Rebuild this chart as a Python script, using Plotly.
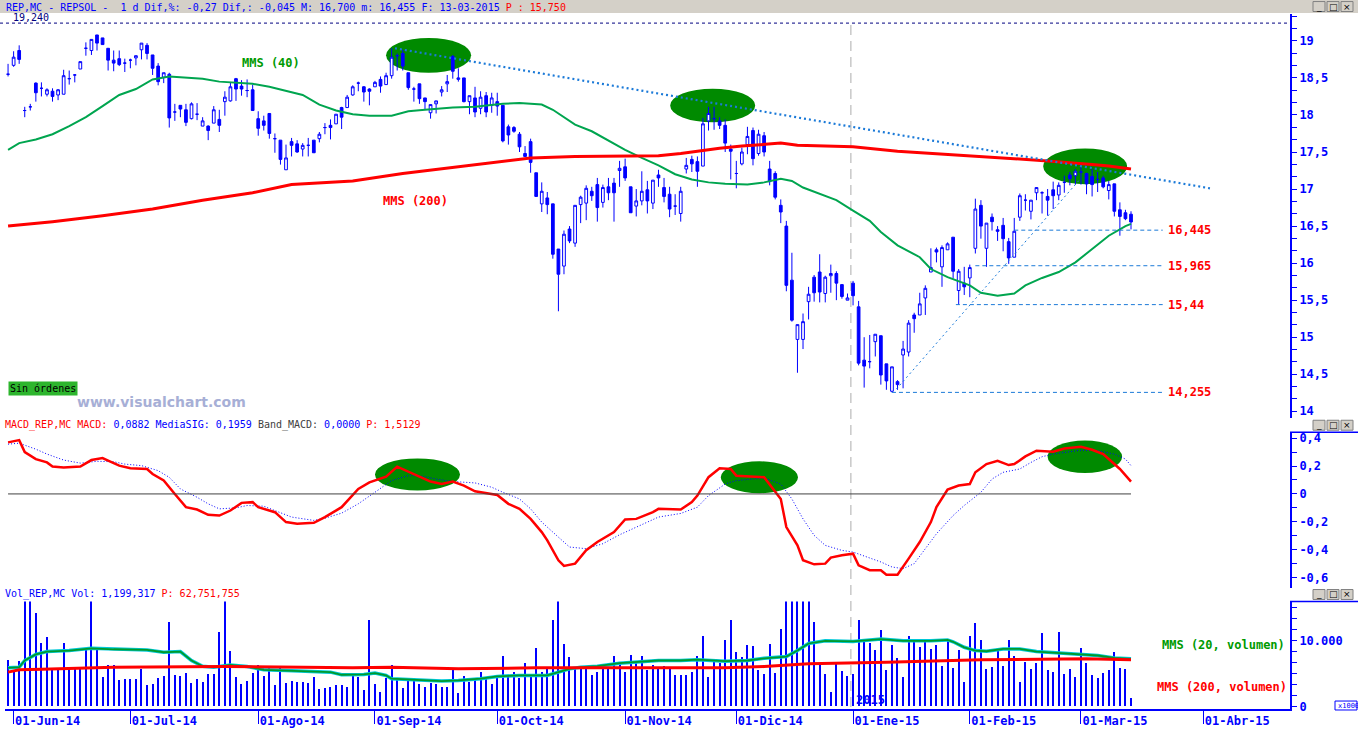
import math
import numpy as np
import pandas as pd
import plotly.graph_objects as go
from plotly.subplots import make_subplots

# trading calendar of the Spanish market (weekdays minus market holidays)
holidays = ["2014-12-25", "2014-12-26", "2015-01-01"]
cal = pd.bdate_range("2014-05-30", "2015-05-29")
cal = cal[~cal.isin(pd.to_datetime(holidays))]

# ---- daily candles REP.MC (30-May-2014 .. 13-Mar-2015)
opens = [
    18.55, 18.67, 18.87, 18.06, 18.11, 18.43, 18.36, 18.28, 18.32, 18.27,
    18.28, 18.49, 18.54, 18.62, 18.90, 18.87, 19.08, 19.04, 18.90, 18.74,
    18.76, 18.70, 18.74, 18.77, 18.88, 18.94, 18.81, 18.66, 18.51, 18.55,
    18.04, 18.13, 18.07, 17.95, 18.01, 17.85, 17.85, 17.89, 17.94, 18.18,
    18.19, 18.49, 18.39, 18.33, 18.34, 17.95, 17.92, 18.02, 17.68, 17.66,
    17.26, 17.64, 17.61, 17.54, 17.59, 17.66, 17.68, 17.83, 17.86, 17.88,
    18.10, 18.10, 18.27, 18.43, 18.38, 18.35, 18.38, 18.48, 18.41, 18.53,
    18.80, 18.83, 18.57, 18.35, 18.42, 18.23, 18.03, 18.15, 18.31, 18.42,
    18.79, 18.48, 18.50, 18.18, 18.23, 18.09, 18.26, 18.13, 18.18, 18.13,
    17.84, 17.83, 17.74, 17.48, 17.64, 17.22, 16.80, 16.88, 16.80, 16.19,
    15.96, 16.46, 16.27, 16.79, 16.81, 16.97, 17.06, 16.82, 17.03, 17.08,
    17.25, 17.30, 17.03, 16.77, 16.84, 16.99, 16.81, 17.19, 17.02, 16.93,
    16.77, 16.67, 17.27, 17.40, 17.37, 17.31, 17.92, 17.95, 17.92, 17.86,
    17.54, 17.21, 17.34, 17.60, 17.79, 17.48, 17.72, 17.27, 17.21, 16.78,
    16.50, 15.77, 14.97, 14.97, 15.48, 15.81, 15.88, 15.59, 15.83, 15.86,
    15.71, 15.50, 15.73, 15.41, 14.69, 14.67, 14.94, 15.02, 14.64, 14.27,
    14.40, 14.76, 14.80, 15.30, 15.30, 15.53, 15.88, 16.18, 15.95, 16.18,
    16.35, 15.63, 15.73, 15.80, 16.20, 16.78, 16.20, 16.62, 16.45, 16.51,
    16.29, 16.08, 16.62, 16.85, 16.70, 16.95, 16.95, 16.90, 16.99, 16.92,
    17.09, 17.19, 17.18, 17.23, 17.21, 17.17, 17.13, 17.15, 16.98, 17.07,
    16.72, 16.68, 16.66]
highs = [
    18.69, 18.86, 18.94, 18.11, 18.15, 18.44, 18.44, 18.36, 18.36, 18.35,
    18.61, 18.60, 18.55, 18.72, 18.98, 19.02, 19.08, 19.04, 18.90, 18.87,
    18.87, 18.76, 18.76, 18.80, 18.97, 18.97, 18.81, 18.70, 18.57, 18.57,
    18.15, 18.13, 18.15, 18.17, 18.16, 17.97, 17.86, 18.12, 18.07, 18.32,
    18.44, 18.50, 18.47, 18.48, 18.41, 18.05, 17.99, 18.02, 17.75, 17.66,
    17.60, 17.69, 17.66, 17.62, 17.69, 17.66, 17.77, 17.89, 17.94, 18.01,
    18.11, 18.27, 18.40, 18.45, 18.39, 18.36, 18.46, 18.52, 18.57, 18.90,
    18.83, 18.88, 18.57, 18.38, 18.42, 18.23, 18.14, 18.19, 18.39, 18.54,
    18.81, 18.63, 18.50, 18.26, 18.38, 18.32, 18.31, 18.30, 18.30, 18.13,
    17.87, 17.85, 17.77, 17.58, 17.68, 17.22, 17.09, 16.96, 16.80, 16.19,
    16.44, 16.50, 16.78, 16.91, 17.05, 17.03, 17.15, 17.06, 17.15, 17.15,
    17.38, 17.41, 17.03, 17.00, 17.24, 17.11, 17.12, 17.26, 17.15, 17.03,
    16.93, 17.03, 17.42, 17.45, 17.44, 17.96, 18.11, 18.11, 17.97, 17.94,
    17.60, 17.38, 17.56, 17.84, 17.83, 17.80, 17.77, 17.38, 17.24, 16.86,
    16.57, 16.14, 15.17, 15.32, 15.68, 15.84, 16.12, 15.83, 15.98, 15.89,
    15.71, 15.59, 15.76, 15.49, 15.00, 15.03, 15.04, 15.02, 14.64, 14.60,
    14.42, 14.95, 15.23, 15.33, 15.60, 15.70, 16.20, 16.21, 16.24, 16.28,
    16.35, 15.92, 15.95, 15.98, 16.87, 16.85, 16.54, 16.67, 16.50, 16.61,
    16.34, 16.61, 16.94, 16.93, 16.85, 17.02, 16.97, 17.00, 17.10, 17.09,
    17.18, 17.23, 17.27, 17.30, 17.22, 17.27, 17.23, 17.18, 17.11, 17.07,
    16.82, 16.72, 16.70]
lows = [
    18.52, 18.65, 18.69, 17.97, 18.06, 18.18, 18.25, 18.25, 18.18, 18.20,
    18.28, 18.41, 18.44, 18.62, 18.80, 18.81, 18.87, 18.95, 18.60, 18.59,
    18.66, 18.58, 18.63, 18.67, 18.75, 18.75, 18.54, 18.40, 18.43, 17.83,
    17.92, 17.97, 17.85, 17.94, 17.93, 17.85, 17.66, 17.89, 17.77, 17.99,
    18.18, 18.19, 18.26, 18.24, 18.06, 17.72, 17.79, 17.68, 17.49, 17.33,
    17.26, 17.44, 17.49, 17.44, 17.44, 17.49, 17.63, 17.74, 17.67, 17.88,
    17.81, 18.10, 18.26, 18.32, 18.18, 18.13, 18.38, 18.30, 18.41, 18.49,
    18.60, 18.60, 18.34, 18.18, 18.15, 18.07, 17.95, 18.02, 18.25, 18.31,
    18.49, 18.45, 18.17, 18.01, 17.97, 18.01, 17.97, 18.03, 17.99, 17.63,
    17.60, 17.76, 17.50, 17.44, 17.22, 16.90, 16.69, 16.66, 16.06, 15.35,
    15.85, 16.27, 16.22, 16.54, 16.58, 16.84, 16.56, 16.75, 16.85, 16.56,
    17.03, 17.11, 16.68, 16.63, 16.78, 16.67, 16.73, 17.03, 16.82, 16.62,
    16.65, 16.56, 17.21, 17.23, 17.03, 17.31, 17.79, 17.80, 17.81, 17.50,
    17.13, 17.01, 17.32, 17.47, 17.32, 17.45, 17.44, 17.05, 16.86, 16.54,
    15.62, 15.21, 14.52, 14.84, 15.24, 15.48, 15.47, 15.47, 15.60, 15.50,
    15.52, 15.50, 15.43, 14.62, 14.32, 14.58, 14.74, 14.36, 14.29, 14.255,
    14.29, 14.31, 14.74, 15.06, 15.30, 15.30, 15.88, 16.01, 15.68, 16.18,
    15.79, 15.44, 15.57, 15.54, 16.13, 16.33, 15.95, 16.44, 16.30, 16.16,
    15.99, 16.08, 16.57, 16.71, 16.59, 16.85, 16.67, 16.64, 16.73, 16.85,
    16.95, 17.05, 17.06, 17.06, 16.93, 16.90, 16.96, 17.01, 16.86, 16.63,
    16.37, 16.58, 16.455]
closes = [
    18.55, 18.78, 18.75, 18.06, 18.11, 18.30, 18.36, 18.34, 18.25, 18.34,
    18.53, 18.49, 18.54, 18.72, 18.90, 19.02, 18.97, 18.95, 18.74, 18.70,
    18.68, 18.70, 18.74, 18.80, 18.97, 18.83, 18.63, 18.45, 18.57, 17.96,
    18.04, 18.08, 17.90, 18.15, 18.01, 17.92, 17.79, 18.07, 17.86, 18.24,
    18.38, 18.35, 18.35, 18.33, 18.06, 17.82, 17.86, 17.75, 17.68, 17.40,
    17.42, 17.59, 17.50, 17.59, 17.59, 17.49, 17.74, 17.83, 17.83, 18.01,
    17.97, 18.24, 18.38, 18.43, 18.31, 18.32, 18.44, 18.39, 18.53, 18.78,
    18.80, 18.66, 18.37, 18.35, 18.22, 18.18, 18.14, 18.19, 18.34, 18.45,
    18.59, 18.50, 18.18, 18.26, 18.04, 18.24, 18.04, 18.23, 18.12, 17.65,
    17.73, 17.78, 17.57, 17.44, 17.36, 16.90, 16.97, 16.79, 16.12, 15.85,
    16.39, 16.30, 16.78, 16.89, 17.01, 16.91, 16.75, 17.02, 16.95, 16.95,
    17.28, 17.15, 16.68, 16.84, 16.97, 16.84, 17.12, 17.15, 16.90, 16.73,
    16.77, 16.97, 17.32, 17.34, 17.24, 17.88, 18.02, 17.95, 17.86, 17.62,
    17.51, 17.21, 17.50, 17.71, 17.41, 17.74, 17.50, 17.10, 16.89, 16.69,
    15.70, 15.23, 15.17, 15.21, 15.58, 15.60, 15.61, 15.81, 15.86, 15.73,
    15.55, 15.53, 15.56, 14.65, 14.61, 14.67, 15.04, 14.49, 14.41, 14.60,
    14.36, 14.84, 15.19, 15.25, 15.45, 15.66, 15.94, 16.15, 16.21, 16.26,
    15.89, 15.89, 15.68, 15.94, 16.73, 16.50, 16.54, 16.56, 16.43, 16.33,
    16.07, 16.43, 16.91, 16.85, 16.85, 17.02, 16.95, 16.85, 16.91, 17.05,
    17.09, 17.14, 17.24, 17.23, 17.07, 17.06, 17.13, 17.03, 17.06, 16.70,
    16.63, 16.60, 16.555]
dates = cal[:len(closes)]

# moving averages on price (sampled at trading-day numbers)
mms40_day = [0, 2, 5, 8, 11, 14, 17, 20, 23, 26, 29, 32, 35, 38, 41, 44, 47, 51, 53, 56,
             59, 62, 65, 69, 72, 75, 80, 84, 89, 92, 96, 98, 102, 105, 108, 111, 114, 117, 120, 123,
             126, 129, 133, 136, 139, 141, 143, 146, 149, 152, 155, 157, 160, 164, 166, 169, 173, 175, 178, 181,
             183, 186, 189, 192, 195, 198, 201, 202]
mms40_val = [17.53, 17.62, 17.67, 17.74, 17.85, 17.97, 18.12, 18.27, 18.35, 18.48,
             18.52, 18.51, 18.49, 18.45, 18.43, 18.42, 18.38, 18.31, 18.27, 18.14,
             18.06, 18.01, 17.99, 17.99, 18.05, 18.07, 18.10, 18.11, 18.15, 18.16,
             18.14, 18.07, 17.87, 17.78, 17.65, 17.53, 17.42, 17.32, 17.20, 17.13,
             17.09, 17.07, 17.06, 17.09, 17.14, 17.11, 17.02, 16.93, 16.85, 16.71,
             16.57, 16.42, 16.24, 16.08, 15.92, 15.81, 15.70, 15.60, 15.56, 15.59,
             15.70, 15.80, 15.88, 16.01, 16.19, 16.37, 16.50, 16.53]
mms200_day = [0, 8, 17, 26, 35, 44, 51, 62, 71, 80, 89, 94, 102, 112, 117, 121, 125, 128, 132, 135,
              139, 142, 146, 152, 160, 169, 178, 187, 195, 198, 202]
mms200_val = [16.50, 16.56, 16.64, 16.73, 16.85, 16.95, 17.06, 17.11, 17.21, 17.29,
              17.38, 17.42, 17.44, 17.44, 17.45, 17.48, 17.52, 17.55, 17.58, 17.60,
              17.62, 17.59, 17.58, 17.57, 17.51, 17.47, 17.42, 17.38, 17.33, 17.31, 17.27]

# MACD and signal
macd_day = [0, 2, 3, 5, 7, 8, 10, 13, 15, 17, 18, 20, 22, 25, 26, 28, 30, 32, 34, 36,
            38, 40, 42, 44, 45, 48, 50, 52, 55, 57, 60, 63, 65, 68, 70, 73, 76, 78, 80, 82,
            84, 88, 90, 92, 94, 96, 97, 99, 100, 102, 104, 106, 109, 111, 113, 116, 117, 121, 123, 124,
            126, 128, 130, 131, 134, 136, 139, 140, 142, 143, 145, 147, 148, 150, 152, 153, 155, 157, 158, 160,
            162, 164, 166, 167, 169, 171, 173, 174, 176, 178, 180, 181, 183, 185, 188, 190, 193, 195, 197, 198,
            200, 202]
macd_val = [0.37, 0.386, 0.30, 0.25, 0.226, 0.196, 0.189, 0.196, 0.243, 0.257,
            0.239, 0.203, 0.184, 0.179, 0.143, 0.096, 0.0, -0.095, -0.112, -0.15,
            -0.155, -0.119, -0.064, -0.059, -0.095, -0.131, -0.202, -0.214, -0.207, -0.166,
            -0.095, 0.036, 0.083, 0.124, 0.196, 0.143, 0.089, 0.071, 0.089, 0.06,
            0.019, -0.007, -0.071, -0.107, -0.179, -0.274, -0.333, -0.476, -0.516, -0.50,
            -0.404, -0.345, -0.274, -0.183, -0.179, -0.131, -0.107, -0.112, -0.059, -0.012,
            0.12, 0.184, 0.179, 0.131, 0.126, 0.12, -0.036, -0.238, -0.369, -0.476,
            -0.505, -0.50, -0.457, -0.44, -0.429, -0.512, -0.547, -0.547, -0.579, -0.579,
            -0.464, -0.345, -0.202, -0.095, 0.031, 0.06, 0.071, 0.155, 0.214, 0.238,
            0.207, 0.214, 0.269, 0.31, 0.303, 0.326, 0.339, 0.317, 0.286, 0.25,
            0.179, 0.088]
sig_day = [0, 2, 5, 7, 10, 13, 16, 19, 21, 24, 27, 29, 31, 34, 36, 38, 41, 43, 46, 48,
           51, 55, 57, 60, 63, 66, 69, 72, 74, 77, 80, 84, 87, 89, 92, 94, 96, 99, 101, 104,
           107, 110, 113, 117, 121, 124, 126, 129, 131, 134, 136, 139, 141, 143, 145, 147, 150, 152, 154, 157,
           159, 161, 163, 165, 167, 170, 172, 175, 177, 179, 182, 184, 186, 188, 191, 193, 196, 199, 201, 202]
sig_val = [0.357, 0.364, 0.321, 0.286, 0.243, 0.221, 0.234, 0.231, 0.214, 0.203,
           0.167, 0.119, 0.036, -0.024, -0.071, -0.107, -0.1, -0.083, -0.088, -0.119,
           -0.166, -0.19, -0.174, -0.138, -0.071, 0.012, 0.096, 0.131, 0.131, 0.107,
           0.089, 0.079, 0.048, 0.012, -0.036, -0.107, -0.202, -0.31, -0.381, -0.393,
           -0.357, -0.293, -0.238, -0.166, -0.14, -0.095, -0.012, 0.071, 0.096, 0.107,
           0.114, 0.071, -0.036, -0.179, -0.297, -0.369, -0.405, -0.417, -0.445, -0.488,
           -0.524, -0.536, -0.50, -0.393, -0.286, -0.155, -0.083, 0.012, 0.107, 0.155,
           0.179, 0.226, 0.267, 0.286, 0.303, 0.314, 0.31, 0.286, 0.25, 0.203]

# volume (thousands of shares)
vol_k = [
    6970, 5200, 6870, 18000, 17500, 14100, 9490, 10500, 5700, 5700,
    9590, 5700, 5700, 5700, 8580, 16800, 8980, 4340, 6200, 6200,
    3940, 4040, 4040, 4040, 5550, 3180, 3280, 4190, 4550, 12800,
    4700, 4550, 4950, 3540, 4040, 3690, 4850, 4850, 11260, 16500,
    8380, 4340, 3330, 3790, 5050, 6200, 4550, 5950, 3180, 5950,
    3430, 3790, 3690, 3690, 3540, 4340, 2520, 2670, 2930, 3180,
    3180, 2930, 4700, 4440, 2420, 13030, 3280, 2170, 4190, 6200,
    3940, 2670, 3940, 3790, 3330, 2930, 3540, 3330, 2930, 2930,
    5700, 2020, 4550, 3690, 3940, 5200, 4340, 3330, 4700, 7570,
    4340, 5200, 4190, 6560, 4440, 8730, 5200, 5950, 13130, 19000,
    9390, 7470, 5950, 5550, 5700, 4700, 5200, 5550, 5550, 7570,
    6460, 5200, 7720, 6460, 7570, 5450, 6200, 5700, 6050, 5850,
    4700, 4700, 4700, 5200, 7570, 10600, 4340, 7070, 6460, 10000,
    13030, 8230, 7370, 9230, 9080, 5450, 4850, 9390, 4950, 11770,
    18000, 17000, 17500, 16500, 16800, 12780, 6460, 4850, 2170, 6460,
    5300, 4550, 4850, 13030, 10000, 9490, 8480, 11520, 5450, 9230,
    7220, 4440, 10600, 9740, 8980, 9900, 8580, 9230, 6050, 9900,
    5700, 8480, 3690, 10600, 12630, 10000, 5550, 5950, 8730, 6050,
    10000, 7570, 3690, 6710, 5550, 6560, 11110, 5450, 5200, 11260,
    4850, 5550, 4440, 8730, 6560, 4700, 4190, 4950, 5450, 8230,
    5700, 5550, 1199]
vma20_day = [0, 2, 3, 5, 7, 11, 15, 19, 25, 28, 31, 33, 35, 37, 40, 43, 46, 50, 55, 58,
             60, 64, 66, 68, 69, 74, 78, 81, 85, 88, 92, 97, 101, 103, 106, 110, 113, 117, 121, 124,
             129, 133, 136, 140, 142, 144, 147, 152, 157, 161, 166, 169, 170, 172, 174, 176, 179, 182, 185, 189,
             193, 196, 199, 202]
vma20_val = [5850, 5950, 6970, 7900, 8330, 8480, 8830, 8680, 8580, 8230,
             8330, 6970, 6100, 5950, 6300, 6050, 5550, 5450, 5300, 5200,
             4800, 4850, 5050, 4700, 4200, 4040, 3840, 3940, 4200, 4550,
             4700, 4700, 5700, 5950, 6100, 6560, 6710, 6970, 6970, 7100,
             6870, 6970, 7300, 7570, 8480, 9560, 9970, 9870, 10230, 9970,
             9970, 10100, 9820, 8980, 8480, 8380, 8730, 8730, 8330, 8130,
             7830, 7730, 7370, 7220]
vma200_day = [0, 2, 6, 15, 19, 39, 62, 69, 81, 95, 121, 129, 136, 144, 158, 169, 175, 194, 202]
vma200_val = [5200, 5550, 5650, 5800, 5950, 6050, 5850, 5950, 5700, 5850,
              5800, 5850, 6050, 6460, 6710, 6870, 7070, 7220, 7070]

# drawn supports / trend lines / highlight ellipses
levels = [16.445, 15.965, 15.44, 14.255]
level_labels = ["16,445", "15,965", "15,44", "14,255"]
level_from = [181, 174, 170.5, 159]
trend_day, trend_val = [69.6, 216.2], [18.90, 17.01]
rise_day, rise_val = [159.8, 192.8], [14.30, 17.13]
price_ell = [(68.0, 83.3, 18.57, 19.04), (119.1, 134.4, 17.90, 18.355), (186.2, 201.3, 17.065, 17.548)]
macd_ell = [(66.0, 81.3, 0.024, 0.255), (128.2, 142.1, 0.005, 0.234), (187.0, 200.4, 0.15, 0.384)]

months = ["2014-06-01", "2014-07-01", "2014-08-01", "2014-09-01", "2014-10-01", "2014-11-01",
          "2014-12-01", "2015-01-01", "2015-02-01", "2015-03-01", "2015-04-01"]
month_labels = ["01-Jun-14", "01-Jul-14", "01-Ago-14", "01-Sep-14", "01-Oct-14", "01-Nov-14",
                "01-Dic-14", "01-Ene-15", "01-Feb-15", "01-Mar-15", "01-Abr-15"]
price_ticks = [14, 14.5, 15, 15.5, 16, 16.5, 17, 17.5, 18, 18.5, 19]
price_ticktext = ["14", "14,5", "15", "15,5", "16", "16,5", "17", "17,5", "18", "18,5", "19"]
macd_ticks = [-0.6, -0.4, -0.2, 0, 0.2, 0.4]
macd_ticktext = ["-0,6", "-0,4", "-0,2", "0", "0,2", "0,4"]


def at(i):
    k = math.floor(i)
    base = cal[k] if k >= 0 else cal[0] + pd.Timedelta(days=k)
    return (base + pd.Timedelta(days=i - k)).strftime("%Y-%m-%d %H:%M:%S")


def days(idx):
    return [cal[i] for i in idx]


# page geometry
WIDTH, HEIGHT = 1358, 733
L, R, T, BM = 5, 68, 14, 21
W, H, BOT = WIDTH - L - R, HEIGHT - T - BM, HEIGHT - BM


def PX(x):
    return (x - L) / W


def PY(y):
    return (BOT - y) / H


BLUE, RED = "#0000FF", "#FF0000"
GREEN = "#00A54F"
ELL = "#008A00"
DOT = "#1B7AD8"
MONO = "DejaVu Sans Mono"

fig = make_subplots(rows=3, cols=1, shared_xaxes=True, vertical_spacing=0.0)

fig.add_trace(go.Candlestick(
    x=dates, open=opens, high=highs, low=lows, close=closes, whiskerwidth=0,
    increasing=dict(line=dict(color=BLUE, width=1), fillcolor="#FFFFFF"),
    decreasing=dict(line=dict(color=BLUE, width=1), fillcolor=BLUE),
    hoverinfo="skip"), row=1, col=1)
fig.add_trace(go.Scatter(x=days(mms40_day), y=mms40_val, mode="lines",
                         line=dict(color=GREEN, width=2)), row=1, col=1)
fig.add_trace(go.Scatter(x=days(mms200_day), y=mms200_val, mode="lines",
                         line=dict(color=RED, width=3)), row=1, col=1)

fig.add_trace(go.Scatter(x=days(sig_day), y=sig_val, mode="lines",
                         line=dict(color=BLUE, width=1, dash="1px,2px")), row=2, col=1)
fig.add_trace(go.Scatter(x=days(macd_day), y=macd_val, mode="lines",
                         line=dict(color=RED, width=2.5)), row=2, col=1)

fig.add_trace(go.Bar(x=dates, y=vol_k, width=0.2 * 86400000, marker=dict(color=BLUE, line_width=0)),
              row=3, col=1)
fig.add_trace(go.Scatter(x=days(vma20_day), y=vma20_val, mode="lines",
                         line=dict(color="#00C8D8", width=3.5)), row=3, col=1)
fig.add_trace(go.Scatter(x=days(vma20_day), y=vma20_val, mode="lines",
                         line=dict(color="#009A2A", width=1.8)), row=3, col=1)
fig.add_trace(go.Scatter(x=days(vma200_day), y=vma200_val, mode="lines",
                         line=dict(color=RED, width=3)), row=3, col=1)

# ---- shapes in data space
for x0, x1, y0, y1 in price_ell:
    fig.add_shape(type="circle", x0=at(x0), x1=at(x1), y0=y0, y1=y1, fillcolor=ELL,
                  line_width=0, layer="below", row=1, col=1)
for x0, x1, y0, y1 in macd_ell:
    fig.add_shape(type="circle", x0=at(x0), x1=at(x1), y0=y0, y1=y1, fillcolor=ELL,
                  line_width=0, layer="below", row=2, col=1)
fig.add_shape(type="line", x0=at(trend_day[0]), x1=at(trend_day[1]), y0=trend_val[0], y1=trend_val[1],
              line=dict(color=DOT, width=2.2, dash="2px,3px"), row=1, col=1)
fig.add_shape(type="line", x0=at(rise_day[0]), x1=at(rise_day[1]), y0=rise_val[0], y1=rise_val[1],
              line=dict(color=DOT, width=1, dash="2px,3px"), row=1, col=1)
for lv, start in zip(levels, level_from):
    fig.add_shape(type="line", x0=at(start), x1=at(207.7), y0=lv, y1=lv,
                  line=dict(color=DOT, width=1, dash="4px,3px"), row=1, col=1)
fig.add_shape(type="line", x0=at(0), x1=at(202), y0=0, y1=0,
              line=dict(color="#404040", width=1), row=2, col=1)
# 19,240 max line and year separator
fig.add_shape(type="line", xref="paper", yref="y", x0=PX(0), x1=1, y0=19.24, y1=19.24,
              line=dict(color="#000080", width=1, dash="3px,3px"))
fig.add_shape(type="line", xref="x", yref="paper", x0=at(151.6), x1=at(151.6), y0=PY(710), y1=PY(22),
              line=dict(color="#C8C8C8", width=1.5, dash="10px,6px"), layer="below")

# ---- window chrome
fig.add_shape(type="rect", xref="paper", yref="paper", x0=PX(0), x1=PX(WIDTH), y0=PY(13), y1=PY(0),
              fillcolor="#D4D0C8", line_width=0)
for ytop in (1.5, 422, 592):
    for bx, glyph in zip((1313, 1327, 1341), ("_", "□", "×")):
        fig.add_shape(type="rect", xref="paper", yref="paper", x0=PX(bx), x1=PX(bx + 12),
                      y0=PY(ytop + 10), y1=PY(ytop), fillcolor="#D4D0C8",
                      line=dict(color="#808080", width=1))
        fig.add_annotation(xref="paper", yref="paper", x=PX(bx + 6), y=PY(ytop + 5), text=glyph,
                           showarrow=False, font=dict(family="DejaVu Sans", size=9, color="#000000"),
                           xanchor="center", yanchor="middle")
for ytop in (434, 604):
    fig.add_shape(type="line", xref="paper", yref="paper", x0=1, x1=PX(WIDTH), y0=PY(ytop), y1=PY(ytop),
                  line=dict(color=BLUE, width=1.5))
fig.add_shape(type="rect", xref="paper", yref="paper", x0=PX(1335), x1=PX(1357), y0=PY(713), y1=PY(704),
              fillcolor="#FFFFFF", line=dict(color=BLUE, width=1))


def label(x, y, text, color=BLUE, size=10, bold=False, family=MONO, **kw):
    fig.add_annotation(xref="paper", yref="paper", x=PX(x), y=PY(y), text=text, showarrow=False,
                       xanchor="left", yanchor="middle",
                       font=dict(family=family, size=size, color=color, weight="bold" if bold else "normal"),
                       **kw)


label(4, 7, "<span style='color:#0000FF'>REP,MC - REPSOL -\u00a0\u00a01 d Dif,%: -0,27 Dif,: -0,045 "
            "M: 16,700 m: 16,455 F: 13-03-2015\u00a0</span><span style='color:#FF0000'>P : 15,750</span>")
label(11, 17.5, "19,240", color="#000080")
label(240, 63, "MMS (40)", color="#009A00", size=12, bold=True)
label(381, 202, "MMS (200)", color=RED, size=12, bold=True)
label(8, 390, "Sin órdenes", color="#000000", size=10, bgcolor="#2DB52D", borderpad=1)
label(75, 404, "www.visualchart.com", color="#A7AFD6", size=14, bold=True, family="DejaVu Sans")
label(3, 427, "<span style='color:#FF0000'>MACD_REP,MC MACD:\u00a0</span>"
              "<span style='color:#0000FF'>0,0882 MediaSIG: 0,1959\u00a0</span>"
              "<span style='color:#404040'>Band_MACD:\u00a0</span>"
              "<span style='color:#0000FF'>0,0000\u00a0</span>"
              "<span style='color:#FF0000'>P: 1,5129</span>")
label(3, 597, "<span style='color:#0000FF'>Vol_REP,MC Vol: 1,199,317\u00a0</span>"
              "<span style='color:#FF0000'>P: 62,751,755</span>")
label(1160, 648, "MMS (20, volumen)", color="#009A00", size=12, bold=True)
label(1155, 690, "MMS (200, volumen)", color=RED, size=12, bold=True)
label(854, 703, "2015", color=BLUE, size=12, bold=True)
label(1336, 708.5, "x1000", color=BLUE, size=7)

for lv, txt in zip(levels, level_labels):
    fig.add_annotation(xref="x", yref="y", x=at(208.3), y=lv, text=txt, showarrow=False,
                       xanchor="left", yanchor="middle",
                       font=dict(family=MONO, size=12, color=RED, weight="bold"))

# ---- axes
tick_dates = [cal[cal >= pd.Timestamp(m)][0] for m in months]
fig.update_xaxes(type="date", range=[at(-0.55), at(230.6)],
                 rangebreaks=[dict(bounds=["sat", "mon"]), dict(values=holidays)],
                 showgrid=False, zeroline=False, rangeslider_visible=False,
                 showticklabels=False, ticks="")
fig.update_xaxes(row=3, col=1, showline=True, linecolor=BLUE, linewidth=2, ticks="outside", ticklen=13,
                 tickcolor=BLUE, tickwidth=1, tickvals=tick_dates, ticktext=month_labels,
                 showticklabels=True, ticklabelposition="outside right",
                 tickfont=dict(family=MONO, size=12, color=BLUE, weight="bold"))

yax = dict(side="right", showline=True, linecolor=BLUE, linewidth=2, ticks="outside", ticklen=5,
           tickcolor=BLUE, showgrid=False, zeroline=False,
           tickfont=dict(family=MONO, size=12, color=BLUE, weight="bold"))
fig.update_layout(
    yaxis=dict(domain=[PY(420), 1], range=[19 - (420 - 41) / 74.4, 19 + (41 - T) / 74.4],
               tickvals=price_ticks, ticktext=price_ticktext,
               minor=dict(tickvals=list(np.arange(14, 19.4, 0.5 / 3)), ticks="outside", ticklen=5,
                          tickcolor=BLUE), **yax),
    yaxis2=dict(domain=[PY(590), PY(434)], range=[-0.6 - 10 / 140, 0.4 + 6 / 140],
                tickvals=macd_ticks, ticktext=macd_ticktext,
                minor=dict(tickvals=list(np.arange(-0.6, 0.45, 0.1)), ticks="outside", ticklen=5,
                           tickcolor=BLUE), **yax),
    yaxis3=dict(domain=[0, PY(604)], range=[-(712 - 709.3) / 6.6 * 1000, (709.3 - 604) / 6.6 * 1000],
                tickvals=[0, 10000], ticktext=["0", "10.000"],
                minor=dict(tickvals=list(np.arange(0, 16000, 10000 / 6)), ticks="outside", ticklen=5,
                           tickcolor=BLUE), **yax),
)

fig.update_layout(width=WIDTH, height=HEIGHT, margin=dict(l=L, r=R, t=T, b=BM),
                  paper_bgcolor="#FFFFFF", plot_bgcolor="#FFFFFF", showlegend=False,
                  boxgap=0.3, bargap=0, separators=",.", hovermode=False,
                  font=dict(family=MONO, size=10, color=BLUE))

# the page body has a default 8px margin; drop it so the chart sits at the window's corner
fig.write_html("out.html", config={"displayModeBar": False},
               post_script="document.body.style.margin='0';")
